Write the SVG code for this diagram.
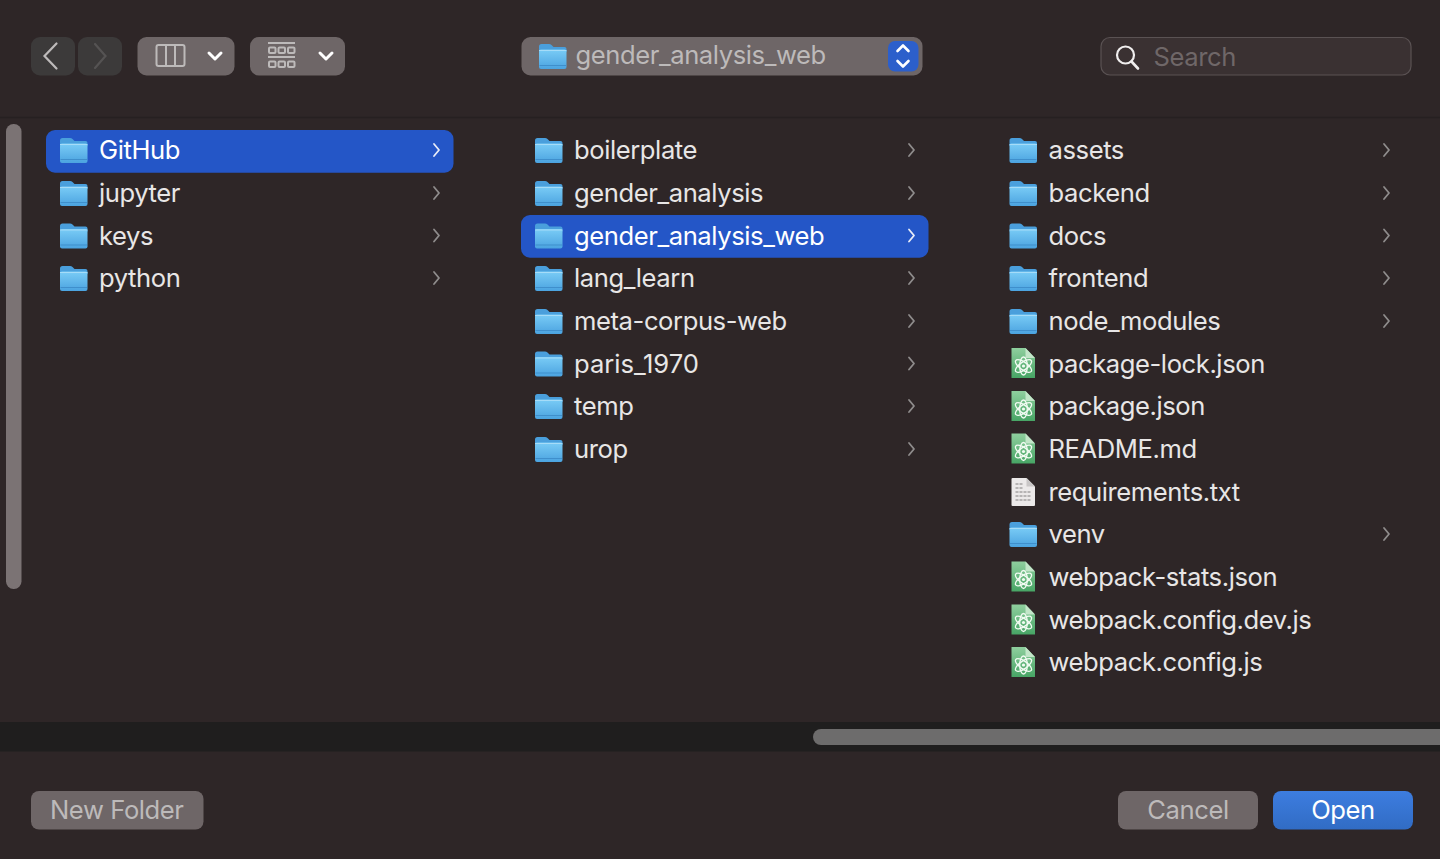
<svg xmlns="http://www.w3.org/2000/svg" xmlns:xlink="http://www.w3.org/1999/xlink" width="1440" height="859" viewBox="0 0 1440 859">
<style>
text{font-family:Inter,"Liberation Sans",sans-serif;font-size:25.6px;letter-spacing:-.42px}
.r{fill:#e8e6e6}
.w{fill:#fff}
.m{fill:#bdbaba}
.chev{fill:none;stroke:#8f8c8c;stroke-width:1.8;stroke-linecap:round;stroke-linejoin:round}
.chevw{fill:none;stroke:#e8ecf8;stroke-width:1.8;stroke-linecap:round;stroke-linejoin:round}
.btn{fill:#6e6667}
.ic{fill:none;stroke:#bdbaba;stroke-width:2}
</style>
<defs>
<linearGradient id="fg" x1="0" y1="0" x2="0" y2="1"><stop offset="0" stop-color="#7accf6"/><stop offset="1" stop-color="#4ba3e0"/></linearGradient>
<linearGradient id="dg" x1="0" y1="0" x2="0" y2="1"><stop offset="0" stop-color="#8fcf9e"/><stop offset="1" stop-color="#47a565"/></linearGradient>
<linearGradient id="og" x1="0" y1="0" x2="0" y2="1"><stop offset="0" stop-color="#3d7de0"/><stop offset="1" stop-color="#316cc4"/></linearGradient>
<g id="folder">
<path d="M0 3.500q0-2.500 2.500-2.500h7.500q1.500 0 2.500 1l2 2h11q2 0 2 2v3h-27.500z" fill="#4a9fdc"/>
<rect x="0" y="6.500" width="27.500" height="19.500" rx="2" fill="url(#fg)"/>
<path d="M0 7.500h27.500" stroke="#a6dcf8" stroke-width="1"/>
<path d="M.5 22.500h26.500" stroke="#3f8fcc" stroke-width="1"/>
</g>
<g id="atom">
<path d="M0 0h14l9.500 10v20h-23.500z" fill="url(#dg)"/>
<path d="M14 0l9.500 10h-9.500z" fill="#c3e6c9"/>
<g fill="none" stroke="#f2fbf3" stroke-width="1.300">
<ellipse cx="12" cy="18" rx="9.500" ry="3.800" transform="rotate(35 12 18)"/>
<ellipse cx="12" cy="18" rx="9.500" ry="3.800" transform="rotate(-35 12 18)"/>
<ellipse cx="12" cy="18" rx="9" ry="3.800" transform="rotate(90 12 18)"/>
</g>
<circle cx="12" cy="18" r="1.600" fill="#f2fbf3"/>
</g>
<g id="doc">
<path d="M0 1q0-1 1-1h14l8.500 8.500v18.500q0 1-1 1h-21.500q-1 0-1-1z" fill="#ece9e9"/>
<path d="M15 0l8.500 8.500h-8.500z" fill="#c9c6c6"/>
<path d="M4 6h8M4 10h8M4 14h15M4 18h15M4 22h15" stroke="#a5a2a2" stroke-width="1.300" stroke-dasharray="3 1"/>
</g>
<path id="c" d="M0-6l5 6-5 6"/>
</defs>

<rect width="1440" height="859" fill="#2e2627"/>
<path d="M0 117.500h1440" stroke="#262021" stroke-width="1.500"/>

<g id="toolbar">
<g id="nav-back"><rect x="31" y="37" width="44" height="38.500" rx="9" fill="#3c3a3a"/><path d="M56.500 43.500l-12 12.500 12 12.500" fill="none" stroke="#bdbaba" stroke-width="2.200" stroke-linecap="round"/></g>
<g id="nav-forward"><rect x="78" y="37" width="44" height="38.500" rx="9" fill="#3c3a3a"/><path d="M95 44l10.500 12-10.500 12" fill="none" stroke="#555353" stroke-width="2.200" stroke-linecap="round"/></g>
<g id="view-columns"><rect x="137.500" y="37" width="97" height="38.500" rx="9" class="btn"/><rect x="156.500" y="45" width="28" height="21" rx="2" class="ic"/><path d="M166 45v21M175 45v21" class="ic"/><path d="M209 53l6 6 6-6" fill="none" stroke="#fff" stroke-width="3" stroke-linecap="round" stroke-linejoin="round"/></g>
<g id="view-grid"><rect x="250" y="37" width="95" height="38.500" rx="9" class="btn"/><path d="M268 43h27M268 57h27" class="ic"/><g class="ic" stroke-width="1.600"><rect x="269" y="47.500" width="6.500" height="5.500" rx="1"/><rect x="278.500" y="47.500" width="6.500" height="5.500" rx="1"/><rect x="288" y="47.500" width="6.500" height="5.500" rx="1"/><rect x="269" y="61.500" width="6.500" height="5.500" rx="1"/><rect x="278.500" y="61.500" width="6.500" height="5.500" rx="1"/><rect x="288" y="61.500" width="6.500" height="5.500" rx="1"/></g><path d="M320 53l6 6 6-6" fill="none" stroke="#fff" stroke-width="3" stroke-linecap="round" stroke-linejoin="round"/></g>
<g id="path-popup"><rect x="521.500" y="37" width="401" height="38.500" rx="9" class="btn"/><use xlink:href="#folder" href="#folder" x="539" y="43"/><text x="575.500" y="64" class="m">gender_analysis_web</text><rect x="888" y="41" width="30.500" height="30.500" rx="7" fill="#2c5fcb"/><path d="M897.500 51l5.500-5.500 5.500 5.500M897.500 61l5.500 5.500 5.500-5.500" fill="none" stroke="#fff" stroke-width="2.600" stroke-linecap="round" stroke-linejoin="round"/></g>
<g id="search"><rect x="1101" y="37.500" width="310" height="37.500" rx="9" fill="#3a3132" stroke="#5a5253" stroke-width="1.200"/><circle cx="1125.500" cy="55" r="8.500" fill="none" stroke="#f0eeee" stroke-width="2.200"/><path d="M1131.500 61.500l6.500 7" stroke="#f0eeee" stroke-width="2.600" stroke-linecap="round"/><text x="1153.500" y="66" fill="#6f6768">Search</text></g>
</g>

<rect id="side-scroll" x="6" y="124" width="15.500" height="465" rx="7.500" fill="#7b7374"/>

<g id="column-1">
<g id="c1-github"><rect x="46" y="130" width="407.500" height="42.700" rx="9" fill="#2456c7"/><use xlink:href="#folder" href="#folder" x="60" y="137"/><text x="99" y="159" class="w">GitHub</text><use xlink:href="#c" href="#c" x="434" y="150" class="chevw"/></g>
<g id="c1-jupyter"><use xlink:href="#folder" href="#folder" x="60" y="180"/><text x="99" y="202" class="r">jupyter</text><use xlink:href="#c" href="#c" x="434" y="193" class="chev"/></g>
<g id="c1-keys"><use xlink:href="#folder" href="#folder" x="60" y="222.500"/><text x="99" y="244.500" class="r">keys</text><use xlink:href="#c" href="#c" x="434" y="235.500" class="chev"/></g>
<g id="c1-python"><use xlink:href="#folder" href="#folder" x="60" y="265"/><text x="99" y="287" class="r">python</text><use xlink:href="#c" href="#c" x="434" y="278" class="chev"/></g>
</g>

<g id="column-2">
<g id="c2-boilerplate"><use xlink:href="#folder" href="#folder" x="535" y="137"/><text x="574" y="159" class="r">boilerplate</text><use xlink:href="#c" href="#c" x="909" y="150" class="chev"/></g>
<g id="c2-gender-analysis"><use xlink:href="#folder" href="#folder" x="535" y="180"/><text x="574" y="202" class="r">gender_analysis</text><use xlink:href="#c" href="#c" x="909" y="193" class="chev"/></g>
<g id="c2-gender-analysis-web"><rect x="521" y="215" width="407.500" height="42.700" rx="9" fill="#2456c7"/><use xlink:href="#folder" href="#folder" x="535" y="222.500"/><text x="574" y="244.500" class="w">gender_analysis_web</text><use xlink:href="#c" href="#c" x="909" y="235.500" class="chevw"/></g>
<g id="c2-lang-learn"><use xlink:href="#folder" href="#folder" x="535" y="265"/><text x="574" y="287" class="r">lang_learn</text><use xlink:href="#c" href="#c" x="909" y="278" class="chev"/></g>
<g id="c2-meta-corpus-web"><use xlink:href="#folder" href="#folder" x="535" y="308"/><text x="574" y="330" class="r">meta-corpus-web</text><use xlink:href="#c" href="#c" x="909" y="321" class="chev"/></g>
<g id="c2-paris-1970"><use xlink:href="#folder" href="#folder" x="535" y="350.500"/><text x="574" y="372.500" class="r" style="letter-spacing:0">paris_1970</text><use xlink:href="#c" href="#c" x="909" y="363.500" class="chev"/></g>
<g id="c2-temp"><use xlink:href="#folder" href="#folder" x="535" y="393"/><text x="574" y="415" class="r">temp</text><use xlink:href="#c" href="#c" x="909" y="406" class="chev"/></g>
<g id="c2-urop"><use xlink:href="#folder" href="#folder" x="535" y="436"/><text x="574" y="458" class="r">urop</text><use xlink:href="#c" href="#c" x="909" y="449" class="chev"/></g>
</g>

<g id="column-3">
<g id="c3-assets"><use xlink:href="#folder" href="#folder" x="1009.500" y="137"/><text x="1048.500" y="159" class="r">assets</text><use xlink:href="#c" href="#c" x="1384" y="150" class="chev"/></g>
<g id="c3-backend"><use xlink:href="#folder" href="#folder" x="1009.500" y="180"/><text x="1048.500" y="202" class="r">backend</text><use xlink:href="#c" href="#c" x="1384" y="193" class="chev"/></g>
<g id="c3-docs"><use xlink:href="#folder" href="#folder" x="1009.500" y="222.500"/><text x="1048.500" y="244.500" class="r">docs</text><use xlink:href="#c" href="#c" x="1384" y="235.500" class="chev"/></g>
<g id="c3-frontend"><use xlink:href="#folder" href="#folder" x="1009.500" y="265"/><text x="1048.500" y="287" class="r">frontend</text><use xlink:href="#c" href="#c" x="1384" y="278" class="chev"/></g>
<g id="c3-node-modules"><use xlink:href="#folder" href="#folder" x="1009.500" y="308"/><text x="1048.500" y="330" class="r">node_modules</text><use xlink:href="#c" href="#c" x="1384" y="321" class="chev"/></g>
<g id="c3-package-lock"><use xlink:href="#atom" href="#atom" x="1011.500" y="348"/><text x="1048.500" y="372.500" class="r">package-lock.json</text></g>
<g id="c3-package"><use xlink:href="#atom" href="#atom" x="1011.500" y="391"/><text x="1048.500" y="415" class="r">package.json</text></g>
<g id="c3-readme"><use xlink:href="#atom" href="#atom" x="1011.500" y="433.500"/><text x="1048.500" y="458" class="r">README.md</text></g>
<g id="c3-requirements"><use xlink:href="#doc" href="#doc" x="1011.500" y="478"/><text x="1048.500" y="500.500" class="r">requirements.txt</text></g>
<g id="c3-venv"><use xlink:href="#folder" href="#folder" x="1009.500" y="521"/><text x="1048.500" y="543" class="r">venv</text><use xlink:href="#c" href="#c" x="1384" y="534" class="chev"/></g>
<g id="c3-webpack-stats"><use xlink:href="#atom" href="#atom" x="1011.500" y="561.500"/><text x="1048.500" y="586" class="r">webpack-stats.json</text></g>
<g id="c3-webpack-dev"><use xlink:href="#atom" href="#atom" x="1011.500" y="604.500"/><text x="1048.500" y="628.500" class="r">webpack.config.dev.js</text></g>
<g id="c3-webpack-config"><use xlink:href="#atom" href="#atom" x="1011.500" y="647"/><text x="1048.500" y="671" class="r">webpack.config.js</text></g>
</g>

<g id="h-scroll"><rect x="0" y="722" width="1440" height="29.500" fill="#1f1e1e"/><rect x="813" y="729" width="660" height="16" rx="8" fill="#6d6c6c"/></g>

<g id="footer">
<g id="new-folder"><rect x="31" y="791" width="172.500" height="38.500" rx="8" class="btn"/><text x="50" y="818.500" class="m">New Folder</text></g>
<g id="cancel"><rect x="1118" y="791" width="140" height="38.500" rx="8" class="btn"/><text x="1188" y="818.500" class="m" text-anchor="middle">Cancel</text></g>
<g id="open"><rect x="1273" y="791" width="140" height="38.500" rx="8" fill="url(#og)"/><text x="1343" y="818.500" class="w" text-anchor="middle">Open</text></g>
</g>
</svg>
